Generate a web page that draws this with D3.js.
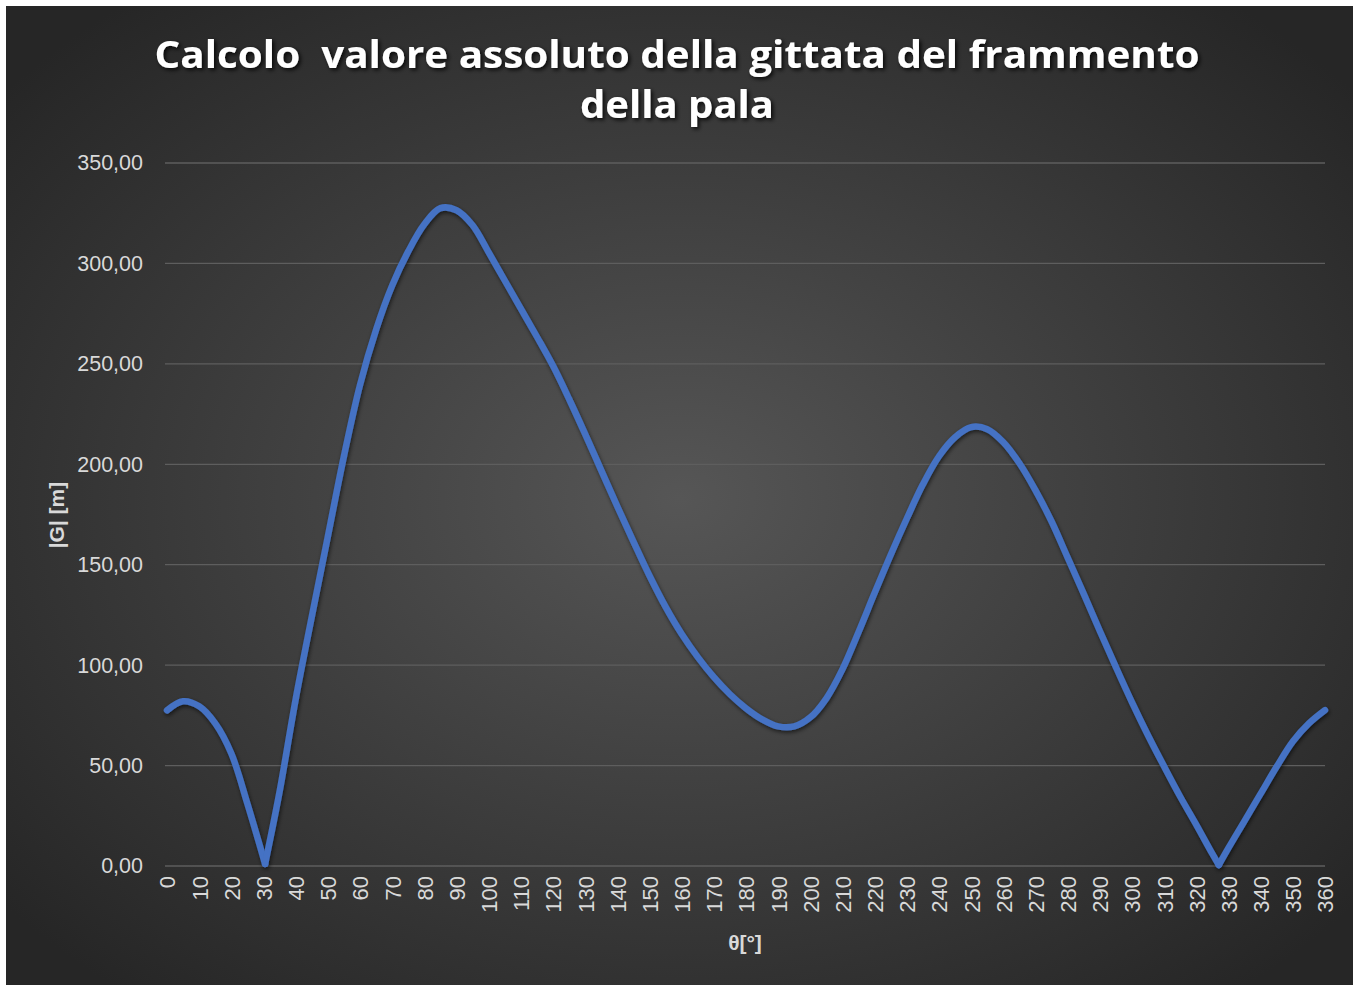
<!DOCTYPE html>
<html>
<head>
<meta charset="utf-8">
<script src="https://d3js.org/d3.v7.min.js"></script>
<style>
  html, body { margin: 0; padding: 0; background: #ffffff; }
  svg { display: block; }
</style>
</head>
<body>
<div id="chart"></div>
<script>
// angoli (gradi) e valore assoluto della gittata |G| (m)
var angles = [0, 5, 10, 15, 20, 25, 30.5, 35, 40, 45, 50, 55, 60, 65, 70, 75, 80, 85, 90,
  95, 100, 105, 110, 115, 120, 125, 130, 135, 140, 145, 150, 155, 160, 165, 170, 175, 180,
  185, 190, 195, 200, 205, 210, 215, 220, 225, 230, 235, 240, 245, 250, 255, 260, 265, 270,
  275, 280, 285, 290, 295, 300, 305, 310, 315, 320, 325, 327, 330, 335, 340, 345, 350, 355, 360];
var gittata = [77.5, 82, 79.5, 71, 56, 31, 1, 37, 83, 124, 164, 204, 239.5, 267, 289, 306, 319.5, 327.5, 326.5,
  319, 305.5, 291.5, 277.5, 263.5, 249, 232.5, 215, 197, 179, 161.5, 144.5, 129, 115.5, 104, 94, 85.5, 78.5,
  73, 69.5, 69.5, 74, 83.5, 98, 116.5, 136, 155, 173, 190, 204, 213.5, 218.5, 217.5, 211, 200.5, 187,
  171.5, 153.5, 135.5, 117, 99, 81.5, 65, 49.5, 34.5, 20.5, 6, 0.5, 9, 22.5, 36, 49.5, 62, 71, 77.6];

var xTicks = d3.range(0, 361, 10);
var yTicks = d3.range(0, 351, 50);

var titleLines = ["Calcolo  valore assoluto della gittata del frammento", "della pala"];
var xTitle = "θ[°]";
var yTitle = "|G| [m]";

var W = 1357, H = 985;
var svg = d3.select("#chart").append("svg").attr("width", W).attr("height", H);

var defs = svg.append("defs");
var grad = defs.append("radialGradient").attr("id", "bg")
  .attr("cx", "50%").attr("cy", "50%").attr("r", "65%");
grad.append("stop").attr("offset", "0%").attr("stop-color", "#565656");
grad.append("stop").attr("offset", "100%").attr("stop-color", "#262626");

var shadow = defs.append("filter").attr("id", "tshadow")
  .attr("x", "-10%").attr("y", "-30%").attr("width", "120%").attr("height", "160%");
shadow.append("feDropShadow").attr("dx", 2).attr("dy", 2).attr("stdDeviation", 2)
  .attr("flood-color", "#000").attr("flood-opacity", 0.85);

var lshadow = defs.append("filter").attr("id", "lshadow")
  .attr("x", "-5%").attr("y", "-5%").attr("width", "110%").attr("height", "110%");
lshadow.append("feDropShadow").attr("dx", 1).attr("dy", 2).attr("stdDeviation", 2)
  .attr("flood-color", "#000").attr("flood-opacity", 0.6);

svg.append("rect").attr("x", 6).attr("y", 6).attr("width", 1347).attr("height", 985)
  .attr("fill", "url(#bg)");

var x = d3.scaleLinear().domain([0, 360]).range([167, 1325]);
var y = d3.scaleLinear().domain([0, 350]).range([866, 163]);

// gridlines
svg.append("g")
  .selectAll("line").data(yTicks).enter().append("line")
  .attr("x1", 165).attr("x2", 1325)
  .attr("y1", function(d) { return y(d); }).attr("y2", function(d) { return y(d); })
  .attr("stroke", "#5e5e5e").attr("stroke-width", 1.3);

// y axis
var yAxis = svg.append("g").attr("transform", "translate(143,0)")
  .call(d3.axisLeft(y).tickValues(yTicks).tickSize(0).tickPadding(0)
    .tickFormat(function(d) { return d3.format(".2f")(d).replace(".", ","); }));
yAxis.select(".domain").remove();
yAxis.selectAll("text")
  .attr("fill", "#d9d9d9")
  .style("font-family", "'Liberation Sans', Arial, sans-serif")
  .style("font-size", "21.5px");

// x axis
var xAxis = svg.append("g").attr("transform", "translate(0,876)")
  .call(d3.axisBottom(x).tickValues(xTicks).tickSize(0).tickPadding(0));
xAxis.select(".domain").remove();
xAxis.selectAll("text")
  .attr("fill", "#d9d9d9")
  .attr("transform", "rotate(-90)")
  .attr("x", 0).attr("y", 0).attr("dy", "0.36em")
  .attr("text-anchor", "end")
  .style("font-family", "'Liberation Sans', Arial, sans-serif")
  .style("font-size", "22px");

// line: split at the zero points so the V bottoms stay sharp
var pts = angles.map(function(a, i) { return [a, gittata[i]]; });
var segments = [];
var start = 0;
for (var i = 1; i < pts.length - 1; i++) {
  if (pts[i][1] < pts[i - 1][1] && pts[i][1] < pts[i + 1][1] && pts[i][1] < 5) {
    segments.push(pts.slice(start, i + 1));
    start = i;
  }
}
segments.push(pts.slice(start));

var line = d3.line()
  .x(function(d) { return x(d[0]); })
  .y(function(d) { return y(d[1]); })
  .curve(d3.curveCatmullRom.alpha(0.5));

var lineG = svg.append("g").attr("filter", "url(#lshadow)");
lineG.selectAll("path").data(segments).enter().append("path")
  .attr("d", line)
  .attr("fill", "none")
  .attr("stroke", "#4472c4")
  .attr("stroke-width", 6.5)
  .attr("stroke-linejoin", "round")
  .attr("stroke-linecap", "round");

// title
var title = svg.append("g").attr("filter", "url(#tshadow)");
title.append("text")
  .attr("x", 677).attr("y", 68)
  .attr("text-anchor", "middle")
  .attr("textLength", 1045).attr("lengthAdjust", "spacingAndGlyphs")
  .attr("fill", "#ffffff")
  .style("white-space", "pre")
  .style("font-family", "'Open Sans', sans-serif").style("font-weight", "bold")
  .style("font-size", "38px")
  .text(titleLines[0]);
title.append("text")
  .attr("x", 677).attr("y", 118)
  .attr("text-anchor", "middle")
  .attr("textLength", 194).attr("lengthAdjust", "spacingAndGlyphs")
  .attr("fill", "#ffffff")
  .style("font-family", "'Open Sans', sans-serif").style("font-weight", "bold")
  .style("font-size", "38px")
  .text(titleLines[1]);

// axis titles
svg.append("text")
  .attr("x", 745).attr("y", 950)
  .attr("text-anchor", "middle")
  .attr("fill", "#d9d9d9")
  .style("font-family", "'Liberation Sans', Arial, sans-serif").style("font-weight", "bold")
  .style("font-size", "21px")
  .text(xTitle);

svg.append("text")
  .attr("transform", "translate(64,515) rotate(-90)")
  .attr("text-anchor", "middle")
  .attr("fill", "#d9d9d9")
  .style("font-family", "'Liberation Sans', Arial, sans-serif").style("font-weight", "bold")
  .style("font-size", "21px")
  .text(yTitle);
</script>
</body>
</html>
